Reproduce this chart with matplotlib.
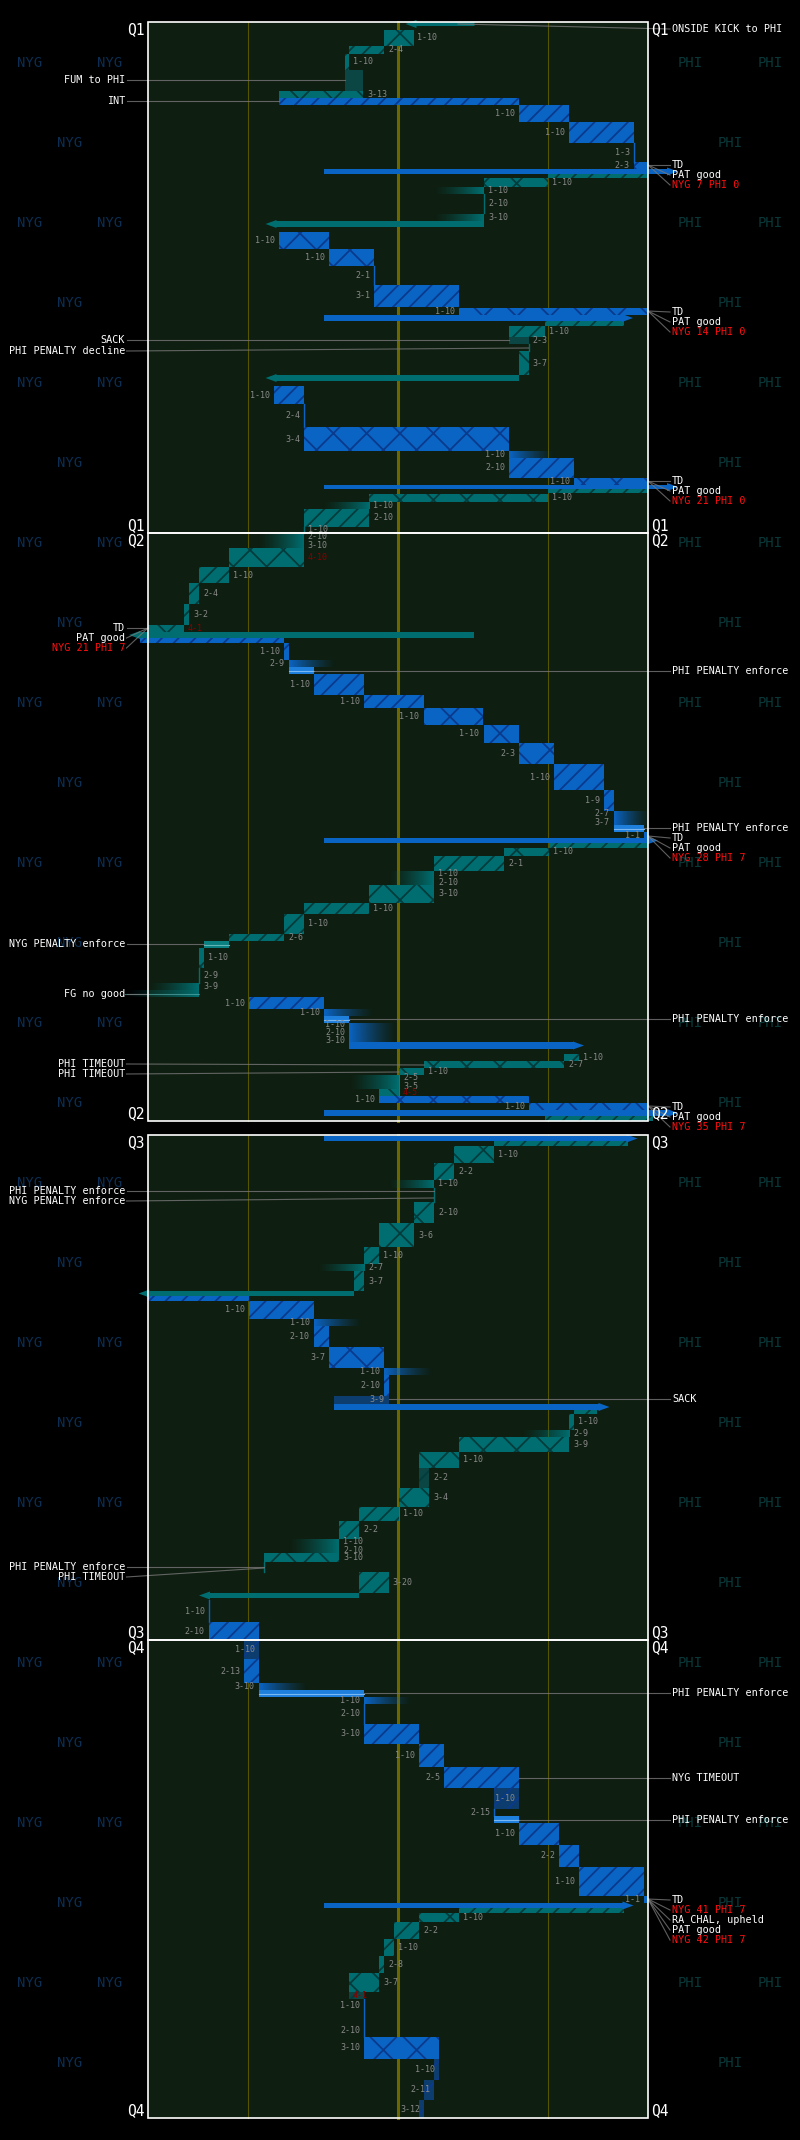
import matplotlib
matplotlib.use("Agg")
import matplotlib.pyplot as plt
import numpy as np
from matplotlib.patches import Rectangle, Polygon

plt.rcParams['hatch.linewidth'] = 1.3
MONO = ['DejaVu Sans Mono']

# ---------------- data ----------------
# quarters: (name, top row, bottom row)
quarters = [("Q1", 22, 533), ("Q2", 533, 1121), ("Q3", 1135, 1640), ("Q4", 1640, 2118)]

# plays: (team, start_yard, end_yard, row_top, row_bottom, kind, label)
q1_plays = [
    ("PHI", 65.3, 51.5, 22, 26, "kick", ""),
    ("PHI", 53.1, 47.2, 30, 46, "run", "1-10"),
    ("PHI", 47.2, 40.2, 46, 54, "pass", "2-4"),
    ("PHI", 40.2, 39.3, 54, 70, "pass", "1-10"),
    ("PHI", 39.3, 43.0, 70, 91, "fum", ""),
    ("PHI", 43.0, 26.2, 91, 98, "run", "3-13"),
    ("NYG", 26.2, 74.2, 98, 105, "pass", ""),
    ("NYG", 74.2, 84.1, 105, 122, "pass", "1-10"),
    ("NYG", 84.1, 97.1, 122, 143, "pass", "1-10"),
    ("NYG", 97.1, 97.1, 143, 162, "line", "1-3"),
    ("NYG", 97.1, 100, 162, 169, "run", "2-3"),
    ("NYG", 35.2, 106, 169, 174, "kick", ""),
    ("PHI", 100, 80, 174, 178, "ret", ""),
    ("PHI", 80, 67.2, 178, 187, "run", "1-10"),
    ("PHI", 67.2, 57.0, 187, 194, "inc", "1-10"),
    ("PHI", 67.2, 67.2, 194, 213, "line", "2-10"),
    ("PHI", 67.2, 57.0, 214, 221, "inc", "3-10"),
    ("PHI", 67.2, 23.5, 221, 227, "kick", ""),
    ("NYG", 26.2, 36.2, 232, 249, "run", "1-10"),
    ("NYG", 36.2, 45.2, 249, 266, "run", "1-10"),
    ("NYG", 45.2, 45.2, 266, 285, "line", "2-1"),
    ("NYG", 45.2, 62.1, 285, 307, "pass", "3-1"),
    ("NYG", 62.1, 100, 308, 315, "run", "1-10"),
    ("NYG", 35.2, 97, 315, 321, "kick", ""),
    ("PHI", 95.1, 79.3, 321, 326, "ret", ""),
    ("PHI", 79.3, 72.1, 326, 337, "pass", "1-10"),
    ("PHI", 76.1, 72.1, 337, 344, "sack", "2-3"),
    ("PHI", 76.1, 76.1, 344, 351, "line", ""),
    ("PHI", 76.1, 74.2, 351, 375, "run", "3-7"),
    ("PHI", 74.2, 23.5, 375, 381, "kick", ""),
    ("NYG", 25.2, 31.2, 386, 404, "pass", "1-10"),
    ("NYG", 31.2, 31.2, 404, 427, "line", "2-4"),
    ("NYG", 31.2, 72.2, 427, 451, "run", "3-4"),
    ("NYG", 72.2, 81.6, 451, 458, "inc", "1-10"),
    ("NYG", 72.2, 85.2, 458, 478, "pass", "2-10"),
    ("NYG", 85.2, 100, 478, 485, "run", "1-10"),
    ("NYG", 35.2, 106, 485, 489, "kick", ""),
    ("PHI", 100, 80, 489, 493, "ret", ""),
    ("PHI", 80, 44.2, 494, 502, "run", "1-10"),
    ("PHI", 44.2, 34.7, 502, 509, "inc", "1-10"),
    ("PHI", 44.2, 31.2, 509, 527, "pass", "2-10"),
    ("PHI", 31.2, 31.2, 527, 533, "line", "1-10"),
]
q2_plays = [
    ("PHI", 31.1, 21.7, 534, 548, "inc", "2-10\n3-10"),
    ("PHI", 31.1, 16.2, 548, 567, "run", "4-10*"),
    ("PHI", 16.2, 10.2, 567, 583, "pass", "1-10"),
    ("PHI", 10.2, 8.2, 583, 604, "pass", "2-4"),
    ("PHI", 8.2, 7.2, 604, 625, "pass", "3-2"),
    ("PHI", 7.2, 0, 625, 632, "run", "4-1*"),
    ("PHI", 65.2, -3.8, 632, 638, "kick", ""),
    ("NYG", -1.7, 27.2, 637, 643, "ret", ""),
    ("NYG", 27.2, 28.1, 643, 660, "pass", "1-10"),
    ("NYG", 28.1, 37.7, 660, 667, "inc", "2-9"),
    ("NYG", 28.1, 33.1, 667, 674, "pen", ""),
    ("NYG", 33.1, 43.1, 674, 695, "pass", "1-10"),
    ("NYG", 43.1, 55.1, 695, 708, "pass", "1-10"),
    ("NYG", 55.1, 67.1, 708, 725, "run", "1-10"),
    ("NYG", 67.1, 74.2, 725, 743, "run", "1-10"),
    ("NYG", 74.2, 81.2, 743, 764, "run", "2-3"),
    ("NYG", 81.2, 91.1, 764, 790, "pass", "1-10"),
    ("NYG", 91.1, 93.1, 790, 811, "pass", "1-9"),
    ("NYG", 93.1, 100.5, 811, 825, "inc", "2-7\n3-7"),
    ("NYG", 93.1, 99.1, 825, 832, "pen", ""),
    ("NYG", 99.1, 100, 832, 838, "run", "1-1"),
    ("NYG", 35.2, 102, 838, 843, "kick", ""),
    ("PHI", 100, 80.1, 843, 848, "ret", ""),
    ("PHI", 80.1, 71.2, 848, 856, "run", "1-10"),
    ("PHI", 71.2, 57.2, 856, 871, "pass", "2-1"),
    ("PHI", 57.2, 48.0, 871, 885, "inc", "1-10\n2-10"),
    ("PHI", 57.2, 44.2, 885, 903, "run", "3-10"),
    ("PHI", 44.2, 31.2, 903, 914, "pass", "1-10"),
    ("PHI", 31.2, 27.2, 914, 934, "pass", "1-10"),
    ("PHI", 27.2, 16.2, 934, 941, "pass", "2-6"),
    ("PHI", 16.2, 11.2, 941, 948, "pen", ""),
    ("PHI", 11.2, 10.2, 948, 968, "run", "1-10"),
    ("PHI", 10.2, 10.2, 968, 983, "line", "2-9"),
    ("PHI", 10.2, 0, 983, 990, "inc", "3-9"),
    ("PHI", 10.2, -4.6, 990, 997, "fg", ""),
    ("NYG", 20.1, 35.2, 997, 1009, "pass", "1-10"),
    ("NYG", 35.2, 45.4, 1009, 1016, "inc", "1-10"),
    ("NYG", 35.2, 40.2, 1016, 1023, "pen", ""),
    ("NYG", 40.2, 50.0, 1023, 1042, "inc", "1-10\n2-10\n3-10"),
    ("NYG", 40.2, 87.2, 1042, 1049, "kick", ""),
    ("PHI", 86.2, 83.2, 1054, 1061, "run", "1-10"),
    ("PHI", 83.2, 55.2, 1061, 1068, "run", "2-7"),
    ("PHI", 55.2, 50.2, 1068, 1075, "run", "1-10"),
    ("PHI", 50.2, 40.2, 1075, 1089, "inc", "2-5\n3-5"),
    ("PHI", 50.2, 46.2, 1089, 1096, "run", "4-5*"),
    ("NYG", 46.2, 76.1, 1096, 1103, "run", "1-10"),
    ("NYG", 76.1, 100, 1103, 1110, "run", "1-10"),
    ("NYG", 35.2, 106, 1110, 1116, "kick", ""),
    ("PHI", 101, 79.3, 1116, 1121, "ret", ""),
]
q3_plays = [
    ("NYG", 35.2, 97.9, 1136, 1141, "kick", ""),
    ("PHI", 95.9, 69.2, 1141, 1146, "ret", ""),
    ("PHI", 69.2, 61.2, 1146, 1163, "run", "1-10"),
    ("PHI", 61.2, 57.2, 1163, 1180, "pass", "2-2"),
    ("PHI", 57.2, 48.0, 1180, 1188, "inc", "1-10"),
    ("PHI", 57.1, 57.1, 1188, 1202, "line", ""),
    ("PHI", 57.2, 53.2, 1202, 1223, "run", "2-10"),
    ("PHI", 53.2, 46.2, 1223, 1247, "run", "3-6"),
    ("PHI", 46.2, 43.2, 1247, 1264, "pass", "1-10"),
    ("PHI", 43.2, 33.7, 1264, 1271, "inc", "2-7"),
    ("PHI", 43.2, 41.2, 1271, 1291, "pass", "3-7"),
    ("PHI", 41.2, -1.9, 1291, 1296, "kick", ""),
    ("NYG", 0, 20.1, 1296, 1301, "ret", ""),
    ("NYG", 20.1, 33.1, 1301, 1319, "pass", "1-10"),
    ("NYG", 33.1, 42.9, 1319, 1326, "inc", "1-10"),
    ("NYG", 33.1, 36.2, 1326, 1347, "pass", "2-10"),
    ("NYG", 36.2, 47.2, 1347, 1368, "run", "3-7"),
    ("NYG", 47.2, 57.1, 1368, 1375, "inc", "1-10"),
    ("NYG", 47.2, 48.1, 1375, 1396, "pass", "2-10"),
    ("NYG", 48.1, 37.2, 1396, 1404, "sack", "3-9"),
    ("NYG", 37.2, 92.3, 1404, 1410, "kick", ""),
    ("PHI", 89.8, 85.2, 1410, 1414, "ret", ""),
    ("PHI", 85.2, 84.2, 1414, 1430, "pass", "1-10"),
    ("PHI", 84.2, 74.5, 1430, 1437, "inc", "2-9"),
    ("PHI", 84.2, 62.2, 1437, 1452, "run", "3-9"),
    ("PHI", 62.2, 54.2, 1452, 1468, "run", "1-10"),
    ("PHI", 56.2, 54.2, 1468, 1488, "loss", "2-2"),
    ("PHI", 56.2, 50.2, 1488, 1507, "run", "3-4"),
    ("PHI", 50.2, 42.2, 1507, 1521, "pass", "1-10"),
    ("PHI", 42.2, 38.2, 1521, 1539, "pass", "2-2"),
    ("PHI", 38.2, 28.0, 1539, 1553, "inc", "1-10\n2-10"),
    ("PHI", 38.2, 23.2, 1553, 1562, "run", "3-10"),
    ("PHI", 23.2, 23.2, 1562, 1572, "line", ""),
    ("PHI", 48.1, 42.2, 1572, 1593, "pass", "3-20"),
    ("PHI", 42.2, 10.2, 1593, 1598, "kick", ""),
    ("NYG", 12.1, 12.1, 1600, 1622, "line", "1-10"),
    ("NYG", 12.1, 22.1, 1622, 1640, "pass", "2-10"),
]
q4_plays = [
    ("NYG", 22.1, 19.2, 1641, 1659, "loss", "1-10"),
    ("NYG", 19.2, 22.1, 1659, 1683, "pass", "2-13"),
    ("NYG", 22.1, 32.1, 1683, 1690, "inc", "3-10"),
    ("NYG", 22.1, 43.2, 1690, 1697, "pen", ""),
    ("NYG", 43.2, 53.0, 1697, 1704, "inc", "1-10"),
    ("NYG", 43.2, 43.2, 1704, 1724, "line", "2-10"),
    ("NYG", 43.2, 54.2, 1724, 1744, "pass", "3-10"),
    ("NYG", 54.2, 59.2, 1744, 1767, "pass", "1-10"),
    ("NYG", 59.2, 74.2, 1767, 1788, "pass", "2-5"),
    ("NYG", 74.2, 69.2, 1788, 1809, "loss", "1-10"),
    ("NYG", 69.2, 69.2, 1809, 1816, "line", "2-15"),
    ("NYG", 69.2, 74.2, 1816, 1823, "pen", ""),
    ("NYG", 74.2, 82.2, 1823, 1845, "pass", "1-10"),
    ("NYG", 82.2, 86.2, 1845, 1867, "pass", "2-2"),
    ("NYG", 86.2, 99.2, 1867, 1896, "pass", "1-10"),
    ("NYG", 99.2, 100, 1896, 1903, "run", "1-1"),
    ("NYG", 35.2, 97.1, 1903, 1908, "kick", ""),
    ("PHI", 95.1, 62.2, 1908, 1913, "ret", ""),
    ("PHI", 62.2, 54.2, 1913, 1922, "run", "1-10"),
    ("PHI", 54.2, 49.2, 1922, 1939, "pass", "2-2"),
    ("PHI", 49.2, 47.2, 1939, 1956, "pass", "1-10"),
    ("PHI", 47.2, 46.2, 1956, 1973, "pass", "2-8"),
    ("PHI", 46.2, 40.2, 1973, 1992, "run", "3-7"),
    ("PHI", 40.2, 43.2, 1992, 1999, "loss", "4-1*"),
    ("NYG", 43.2, 43.2, 1999, 2037, "line", "1-10\n\n\n2-10"),
    ("NYG", 43.2, 58.2, 2037, 2059, "run", "3-10"),
    ("NYG", 58.2, 57.2, 2059, 2080, "loss", "1-10"),
    ("NYG", 57.2, 55.2, 2080, 2100, "loss", "2-11"),
    ("NYG", 55.2, 54.2, 2100, 2118, "loss", "3-12"),
]

# side notes: (side, label_row, text, colour, anchor_yard, anchor_row)
notes = [
    ("R", 29, "ONSIDE KICK to PHI", "w", 62, 24),
    ("L", 80, "FUM to PHI", "w", 39.3, 80),
    ("L", 101, "INT", "w", 26.2, 101),
    ("R", 165, "TD", "w", 100, 165), ("R", 175, "PAT good", "w", 100, 165), ("R", 185, "NYG 7 PHI 0", "r", 100, 165),
    ("R", 312, "TD", "w", 100, 311), ("R", 322, "PAT good", "w", 100, 311), ("R", 332, "NYG 14 PHI 0", "r", 100, 311),
    ("L", 340, "SACK", "w", 72.1, 340),
    ("L", 351, "PHI PENALTY decline", "w", 76.1, 348),
    ("R", 481, "TD", "w", 100, 481), ("R", 491, "PAT good", "w", 100, 481), ("R", 501, "NYG 21 PHI 0", "r", 100, 481),
    ("L", 628, "TD", "w", 0, 628), ("L", 638, "PAT good", "w", 0, 628), ("L", 648, "NYG 21 PHI 7", "r", 0, 628),
    ("R", 671, "PHI PENALTY enforce", "w", 33.1, 671),
    ("R", 828, "PHI PENALTY enforce", "w", 99.1, 828),
    ("R", 838, "TD", "w", 100, 836), ("R", 848, "PAT good", "w", 100, 836), ("R", 858, "NYG 28 PHI 7", "r", 100, 836),
    ("L", 944, "NYG PENALTY enforce", "w", 11.2, 944),
    ("L", 994, "FG no good", "w", 0, 994),
    ("R", 1019, "PHI PENALTY enforce", "w", 40.2, 1019),
    ("L", 1064, "PHI TIMEOUT", "w", 55.2, 1065),
    ("L", 1074, "PHI TIMEOUT", "w", 50.2, 1072),
    ("R", 1107, "TD", "w", 100, 1106), ("R", 1117, "PAT good", "w", 100, 1106), ("R", 1127, "NYG 35 PHI 7", "r", 100, 1106),
    ("L", 1191, "PHI PENALTY enforce", "w", 57.1, 1191),
    ("L", 1201, "NYG PENALTY enforce", "w", 57.1, 1198),
    ("R", 1399, "SACK", "w", 48.1, 1399),
    ("L", 1567, "PHI PENALTY enforce", "w", 23.2, 1567),
    ("L", 1577, "PHI TIMEOUT", "w", 23.2, 1568),
    ("R", 1693, "PHI PENALTY enforce", "w", 43.2, 1693),
    ("R", 1778, "NYG TIMEOUT", "w", 74.2, 1778),
    ("R", 1820, "PHI PENALTY enforce", "w", 74.2, 1820),
    ("R", 1900, "TD", "w", 100, 1899), ("R", 1910, "NYG 41 PHI 7", "r", 100, 1899),
    ("R", 1920, "RA CHAL, upheld", "w", 100, 1899), ("R", 1930, "PAT good", "w", 100, 1899),
    ("R", 1940, "NYG 42 PHI 7", "r", 100, 1899),
]

teams = {"NYG": dict(c="#0a64c4", dark="#0c3d6e", hatch="#0a3a8c", pen="#1f7fdc", line="#79b8f2"),
         "PHI": dict(c="#006e70", dark="#0b4644", hatch="#023c3c", pen="#0a8080", line="#5fb6b4")}

# ---------------- figure ----------------
fig = plt.figure(figsize=(8, 21.4), dpi=100, facecolor="black")
ax = fig.add_axes([0, 0, 1, 1])
ax.set_facecolor("black")
ax.set_xlim(-29.6, 130.4)
ax.set_ylim(2140, 0)
ax.axis("off")

# watermarks
for i, yy in enumerate(range(63, 2110, 80)):
    if i % 2 == 0:
        for xp in (-23.6, -7.6):
            ax.text(xp, yy, "NYG", color="#0b2e52", fontsize=10, ha="center", va="center", family=MONO, zorder=0)
        for xp in (108.4, 124.4):
            ax.text(xp, yy, "PHI", color="#0a3838", fontsize=10, ha="center", va="center", family=MONO, zorder=0)
    else:
        ax.text(-15.6, yy, "NYG", color="#0b2e52", fontsize=10, ha="center", va="center", family=MONO, zorder=0)
        ax.text(116.4, yy, "PHI", color="#0a3838", fontsize=10, ha="center", va="center", family=MONO, zorder=0)

for name, top, bot in quarters:
    ax.add_patch(Rectangle((0, top), 100, bot - top, facecolor="#0e1e10", edgecolor="none", zorder=1))
    for yl, lw in ((20, 0.8), (80, 0.8)):
        ax.plot([yl, yl], [top, bot], color="#555400", lw=lw, zorder=1.5)
    ax.plot([50, 50], [top, bot], color="#6d6700", lw=2.2, zorder=1.5)

def draw_play(team, s, e, top, bot, kind, label):
    t = teams[team]
    lo, hi = min(s, e), max(s, e)
    h = bot - top
    if kind == "run":
        ax.add_patch(Rectangle((lo, top), hi - lo, h, facecolor=t["c"], edgecolor=t["hatch"], hatch="x", lw=0, zorder=3))
    elif kind == "pass" or kind == "ret":
        ax.add_patch(Rectangle((lo, top), hi - lo, h, facecolor=t["c"], edgecolor=t["hatch"], hatch="//", lw=0, zorder=3))
    elif kind == "loss":
        ax.add_patch(Rectangle((lo, top), hi - lo, h, facecolor=t["dark"], edgecolor=t["hatch"], hatch="//", lw=0, zorder=3))
    elif kind in ("sack", "fum"):
        ax.add_patch(Rectangle((lo, top), hi - lo, h, facecolor=t["dark"], edgecolor="none", lw=0, zorder=3))
    elif kind == "pen":
        ax.add_patch(Rectangle((lo, top), hi - lo, h, facecolor=t["pen"], edgecolor="none", zorder=3))
        ax.plot([lo, hi], [top + h / 2, top + h / 2], color=t["line"], lw=0.8, zorder=3.5)
    elif kind in ("inc", "fg"):
        rgb = matplotlib.colors.to_rgb(t["c"])
        n = 64
        img = np.zeros((1, n, 4))
        img[..., :3] = rgb
        ramp = np.linspace(1, 0, n) ** 1.3
        img[0, :, 3] = ramp if e > s else ramp[::-1]
        ax.imshow(img, extent=[lo, hi, bot, top], aspect="auto", interpolation="bilinear", zorder=3)
        if kind == "fg":
            ax.plot([lo, hi], [top + h / 2, top + h / 2], color=t["line"], lw=0.8, zorder=3.5, alpha=0.6)
    elif kind == "line":
        ax.plot([s, s], [top, bot], color=t["c"], lw=1.0, zorder=3)
    elif kind == "kick":
        d = 1 if e > s else -1
        head = 2.2
        hw = 4
        mid = (top + bot) / 2
        body = e - d * head
        poly = [(s, top), (body, top), (body, mid - hw), (e, mid), (body, mid + hw), (body, bot), (s, bot)]
        ax.add_patch(Polygon(poly, closed=True, facecolor=t["c"], edgecolor="none", zorder=3.2, clip_on=False))
    if label:
        red = label.endswith("*")
        txt = label.rstrip("*")
        col = "#8a0000" if red else "#8a8a8a"
        if team == "NYG":
            ax.text(s - 0.8, (top + bot) / 2, txt, color=col, fontsize=6, ha="right", va="center",
                    family=MONO, zorder=4, linespacing=0.9)
        else:
            ax.text(s + 0.8, (top + bot) / 2, txt, color=col, fontsize=6, ha="left", va="center",
                    family=MONO, zorder=4, linespacing=0.9)

for plays in (q1_plays, q2_plays, q3_plays, q4_plays):
    for p in plays:
        draw_play(*p)

# quarter borders and labels
for name, top, bot in quarters:
    ax.add_patch(Rectangle((0, top), 100, bot - top, facecolor="none", edgecolor="white", lw=1.2, zorder=5))
    for xx, ha in ((-0.6, "right"), (100.6, "left")):
        ax.text(xx, top + 8, name, color="white", fontsize=10.5, ha=ha, va="center", family=MONO, zorder=6)
        ax.text(xx, bot - 7, name, color="white", fontsize=10.5, ha=ha, va="center", family=MONO, zorder=6)

for side, row, text, col, axd, ard in notes:
    c = "#ff1010" if col == "r" else "white"
    if side == "R":
        ax.plot([axd, 104.4], [ard, row], color="#777777", lw=0.8, alpha=0.8, zorder=4.5, clip_on=False)
        ax.text(104.8, row, text, color=c, fontsize=7.3, ha="left", va="center", family=MONO, zorder=6)
    else:
        ax.plot([-4.3, axd], [row, ard], color="#777777", lw=0.8, alpha=0.8, zorder=4.5, clip_on=False)
        ax.text(-4.6, row, text, color=c, fontsize=7.3, ha="right", va="center", family=MONO, zorder=6)

fig.savefig("out.png", dpi=100, facecolor="black")
